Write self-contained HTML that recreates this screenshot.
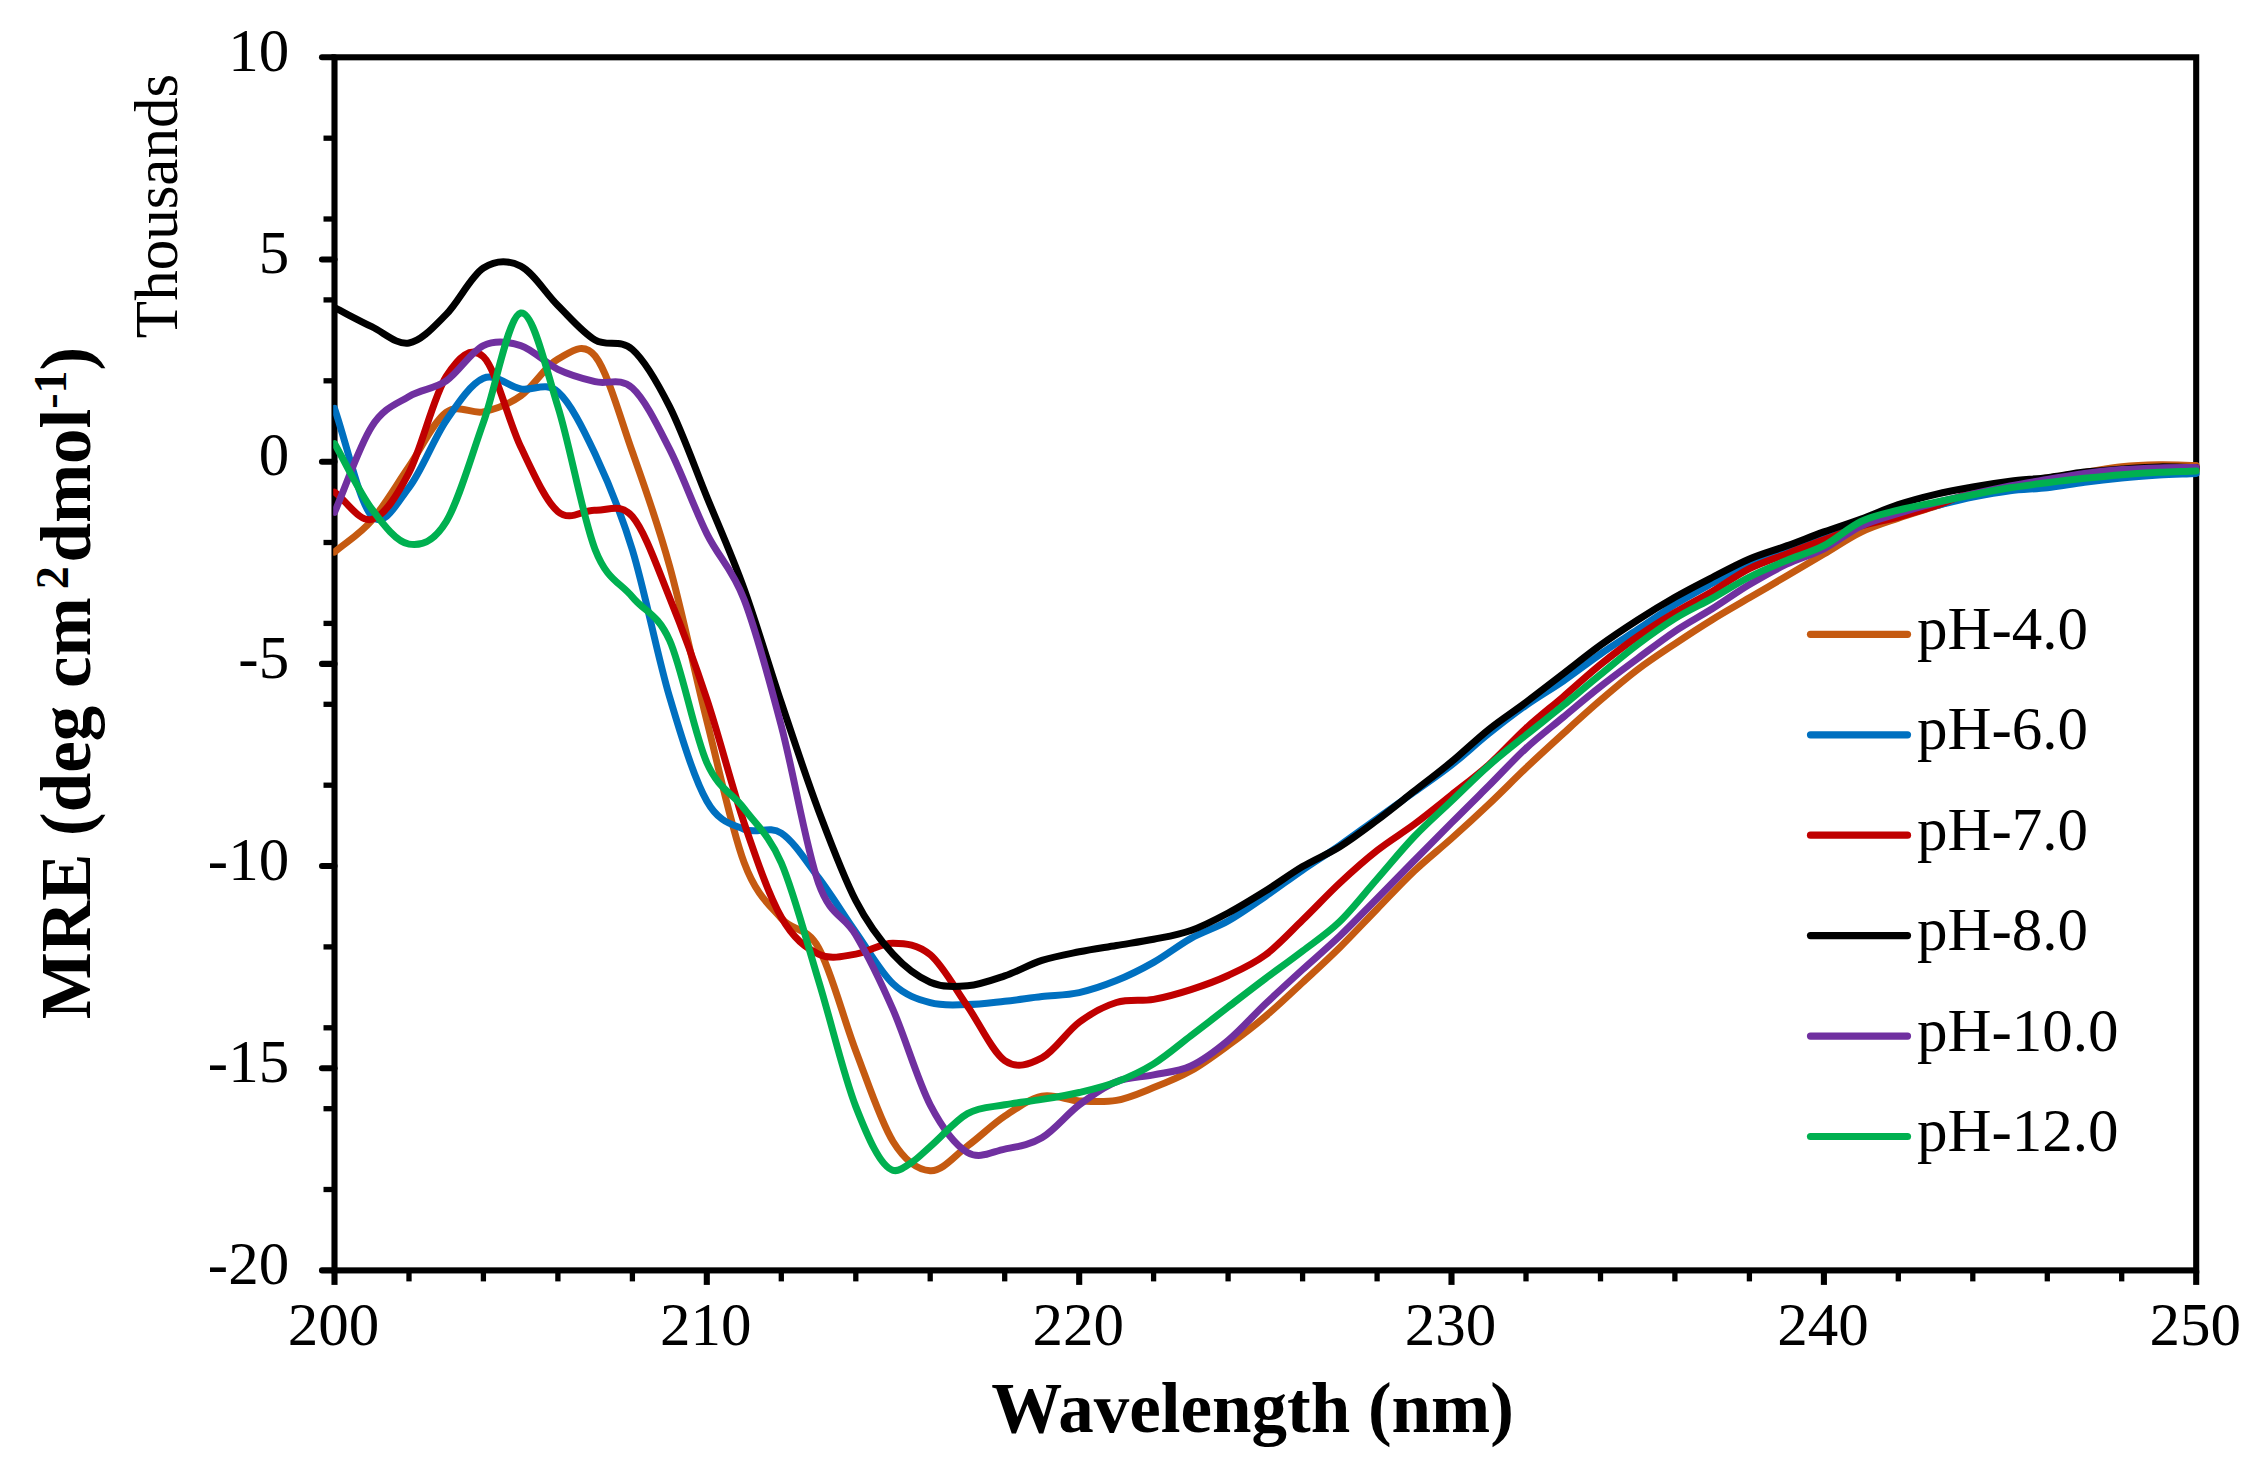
<!DOCTYPE html>
<html><head><meta charset="utf-8"><title>CD spectra</title>
<style>
html,body{margin:0;padding:0;background:#fff}
svg{display:block}
text{font-family:"Liberation Serif","Times New Roman",serif;fill:#000}
.t{font-size:61px}
.b{font-weight:bold}
</style></head><body>
<svg xmlns="http://www.w3.org/2000/svg" width="2266" height="1474" viewBox="0 0 2266 1474">
<rect width="2266" height="1474" fill="#fff"/>

<g stroke="#000" stroke-width="6.1" fill="none" stroke-linecap="butt">
<rect x="334.5" y="57.3" width="1861.7" height="1213.1"/>
<line x1="322.0" y1="57.3" x2="334.5" y2="57.3" stroke-linecap="round"/>
<line x1="322.0" y1="259.5" x2="334.5" y2="259.5" stroke-linecap="round"/>
<line x1="322.0" y1="461.7" x2="334.5" y2="461.7" stroke-linecap="round"/>
<line x1="322.0" y1="663.9" x2="334.5" y2="663.9" stroke-linecap="round"/>
<line x1="322.0" y1="866.0" x2="334.5" y2="866.0" stroke-linecap="round"/>
<line x1="322.0" y1="1068.2" x2="334.5" y2="1068.2" stroke-linecap="round"/>
<line x1="322.0" y1="1270.4" x2="334.5" y2="1270.4" stroke-linecap="round"/>
<line x1="323.5" y1="138.2" x2="334.5" y2="138.2" stroke-width="5.3"/>
<line x1="323.5" y1="219.0" x2="334.5" y2="219.0" stroke-width="5.3"/>
<line x1="323.5" y1="299.9" x2="334.5" y2="299.9" stroke-width="5.3"/>
<line x1="323.5" y1="380.8" x2="334.5" y2="380.8" stroke-width="5.3"/>
<line x1="323.5" y1="542.5" x2="334.5" y2="542.5" stroke-width="5.3"/>
<line x1="323.5" y1="623.4" x2="334.5" y2="623.4" stroke-width="5.3"/>
<line x1="323.5" y1="704.3" x2="334.5" y2="704.3" stroke-width="5.3"/>
<line x1="323.5" y1="785.2" x2="334.5" y2="785.2" stroke-width="5.3"/>
<line x1="323.5" y1="946.9" x2="334.5" y2="946.9" stroke-width="5.3"/>
<line x1="323.5" y1="1027.8" x2="334.5" y2="1027.8" stroke-width="5.3"/>
<line x1="323.5" y1="1108.7" x2="334.5" y2="1108.7" stroke-width="5.3"/>
<line x1="323.5" y1="1189.5" x2="334.5" y2="1189.5" stroke-width="5.3"/>
<line x1="334.5" y1="1270.4" x2="334.5" y2="1284.9"/>
<line x1="706.8" y1="1270.4" x2="706.8" y2="1284.9"/>
<line x1="1079.2" y1="1270.4" x2="1079.2" y2="1284.9"/>
<line x1="1451.5" y1="1270.4" x2="1451.5" y2="1284.9"/>
<line x1="1823.9" y1="1270.4" x2="1823.9" y2="1284.9"/>
<line x1="2196.2" y1="1270.4" x2="2196.2" y2="1284.9"/>
<line x1="409.0" y1="1270.4" x2="409.0" y2="1281.4" stroke-width="5.3"/>
<line x1="483.4" y1="1270.4" x2="483.4" y2="1281.4" stroke-width="5.3"/>
<line x1="557.9" y1="1270.4" x2="557.9" y2="1281.4" stroke-width="5.3"/>
<line x1="632.4" y1="1270.4" x2="632.4" y2="1281.4" stroke-width="5.3"/>
<line x1="781.3" y1="1270.4" x2="781.3" y2="1281.4" stroke-width="5.3"/>
<line x1="855.8" y1="1270.4" x2="855.8" y2="1281.4" stroke-width="5.3"/>
<line x1="930.2" y1="1270.4" x2="930.2" y2="1281.4" stroke-width="5.3"/>
<line x1="1004.7" y1="1270.4" x2="1004.7" y2="1281.4" stroke-width="5.3"/>
<line x1="1153.6" y1="1270.4" x2="1153.6" y2="1281.4" stroke-width="5.3"/>
<line x1="1228.1" y1="1270.4" x2="1228.1" y2="1281.4" stroke-width="5.3"/>
<line x1="1302.6" y1="1270.4" x2="1302.6" y2="1281.4" stroke-width="5.3"/>
<line x1="1377.1" y1="1270.4" x2="1377.1" y2="1281.4" stroke-width="5.3"/>
<line x1="1526.0" y1="1270.4" x2="1526.0" y2="1281.4" stroke-width="5.3"/>
<line x1="1600.5" y1="1270.4" x2="1600.5" y2="1281.4" stroke-width="5.3"/>
<line x1="1674.9" y1="1270.4" x2="1674.9" y2="1281.4" stroke-width="5.3"/>
<line x1="1749.4" y1="1270.4" x2="1749.4" y2="1281.4" stroke-width="5.3"/>
<line x1="1898.3" y1="1270.4" x2="1898.3" y2="1281.4" stroke-width="5.3"/>
<line x1="1972.8" y1="1270.4" x2="1972.8" y2="1281.4" stroke-width="5.3"/>
<line x1="2047.3" y1="1270.4" x2="2047.3" y2="1281.4" stroke-width="5.3"/>
<line x1="2121.7" y1="1270.4" x2="2121.7" y2="1281.4" stroke-width="5.3"/>
</g>
<defs><clipPath id="pc"><rect x="333.2" y="0" width="1870" height="1474"/></clipPath></defs>
<g fill="none" stroke-width="7.0" stroke-linecap="round" stroke-linejoin="round" clip-path="url(#pc)">
<path stroke="#C55A11" d="M334.5,552.1C346.9,541.6 359.3,534.8 371.7,520.5C384.1,506.2 396.6,484.5 409.0,466.5C421.4,448.5 433.8,421.4 446.2,412.3C458.6,403.2 471.0,414.5 483.4,411.8C495.8,409.1 508.3,404.7 520.7,395.9C533.1,387.1 545.5,365.8 557.9,359.2C570.3,352.6 582.7,340.5 595.1,356.0C607.5,371.5 620.0,417.0 632.4,452.0C644.8,487.0 657.2,521.3 669.6,566.1C682.0,610.9 694.4,671.2 706.8,720.6C719.3,770.0 731.7,829.5 744.1,862.5C756.5,895.5 768.9,904.2 781.3,918.4C793.7,932.6 806.1,925.6 818.5,947.7C831.0,969.8 843.4,1018.6 855.8,1050.9C868.2,1083.2 880.6,1121.5 893.0,1141.5C905.4,1161.5 917.8,1170.0 930.2,1170.7C942.7,1171.5 955.1,1155.1 967.5,1146.0C979.9,1136.9 992.3,1124.5 1004.7,1116.2C1017.1,1107.9 1029.5,1098.6 1041.9,1096.1C1054.4,1093.5 1066.8,1100.2 1079.2,1100.9C1091.6,1101.6 1104.0,1102.6 1116.4,1100.4C1128.8,1098.2 1141.2,1092.5 1153.6,1087.6C1166.1,1082.7 1178.5,1077.8 1190.9,1070.8C1203.3,1063.8 1215.7,1054.5 1228.1,1045.4C1240.5,1036.4 1252.9,1027.0 1265.3,1016.5C1277.8,1006.0 1290.2,994.0 1302.6,982.5C1315.0,971.0 1327.4,959.8 1339.8,947.5C1352.2,935.2 1364.6,921.8 1377.1,909.0C1389.5,896.2 1401.9,882.8 1414.3,871.0C1426.7,859.2 1439.1,849.6 1451.5,838.5C1463.9,827.4 1476.3,816.0 1488.8,804.2C1501.2,792.5 1513.6,779.8 1526.0,768.0C1538.4,756.2 1550.8,744.9 1563.2,733.6C1575.6,722.3 1588.0,710.9 1600.5,700.2C1612.9,689.5 1625.3,678.9 1637.7,669.5C1650.1,660.1 1662.5,652.1 1674.9,643.8C1687.3,635.5 1699.7,627.4 1712.2,619.7C1724.6,612.0 1737.0,605.1 1749.4,597.8C1761.8,590.5 1774.2,583.3 1786.6,576.0C1799.0,568.7 1811.4,561.4 1823.9,554.1C1836.3,546.8 1848.7,538.1 1861.1,532.1C1873.5,526.1 1885.9,522.5 1898.3,518.2C1910.7,513.9 1923.2,510.3 1935.6,506.2C1948.0,502.1 1960.4,497.1 1972.8,493.5C1985.2,489.9 1997.6,487.1 2010.0,484.5C2022.4,481.9 2034.9,480.0 2047.3,478.0C2059.7,476.0 2072.1,474.5 2084.5,472.6C2096.9,470.7 2109.3,468.0 2121.7,466.7C2134.1,465.4 2146.6,465.0 2159.0,464.8C2171.4,464.6 2183.8,465.3 2196.2,465.6"/>
<path stroke="#0070C0" d="M334.5,408.3C346.9,444.2 359.3,502.7 371.7,515.9C384.1,529.1 396.6,503.4 409.0,487.5C421.4,471.6 433.8,438.7 446.2,420.5C458.6,402.3 471.0,383.6 483.4,378.3C495.8,373.0 508.3,386.6 520.7,388.9C533.1,391.2 545.5,381.0 557.9,391.9C570.3,402.8 582.7,427.7 595.1,454.0C607.5,480.4 620.0,509.5 632.4,550.0C644.8,590.5 657.2,655.3 669.6,697.1C682.0,738.9 694.4,779.0 706.8,801.0C719.3,823.0 731.7,823.9 744.1,829.2C756.5,834.6 768.9,825.0 781.3,833.1C793.7,841.2 806.1,861.1 818.5,877.6C831.0,894.1 843.4,914.5 855.8,932.2C868.2,949.9 880.6,972.0 893.0,983.8C905.4,995.5 917.8,999.2 930.2,1002.7C942.7,1006.2 955.1,1004.8 967.5,1004.6C979.9,1004.4 992.3,1002.6 1004.7,1001.3C1017.1,1000.0 1029.5,998.0 1041.9,996.6C1054.4,995.2 1066.8,995.3 1079.2,992.6C1091.6,989.9 1104.0,985.6 1116.4,980.6C1128.8,975.6 1141.2,969.4 1153.6,962.4C1166.1,955.4 1178.5,945.3 1190.9,938.4C1203.3,931.5 1215.7,928.0 1228.1,921.0C1240.5,914.0 1252.9,905.0 1265.3,896.5C1277.8,888.0 1290.2,878.5 1302.6,870.0C1315.0,861.5 1327.4,853.9 1339.8,845.3C1352.2,836.7 1364.6,827.4 1377.1,818.5C1389.5,809.6 1401.9,800.9 1414.3,792.0C1426.7,783.1 1439.1,774.7 1451.5,765.0C1463.9,755.3 1476.3,743.6 1488.8,733.6C1501.2,723.7 1513.6,714.1 1526.0,705.3C1538.4,696.5 1550.8,689.5 1563.2,681.0C1575.6,672.4 1588.0,662.6 1600.5,654.0C1612.9,645.4 1625.3,637.7 1637.7,629.5C1650.1,621.3 1662.5,612.3 1674.9,604.6C1687.3,596.9 1699.7,590.2 1712.2,583.3C1724.6,576.4 1737.0,568.3 1749.4,563.0C1761.8,557.7 1774.2,555.6 1786.6,551.5C1799.0,547.4 1811.4,542.9 1823.9,538.5C1836.3,534.1 1848.7,528.9 1861.1,525.0C1873.5,521.1 1885.9,518.2 1898.3,515.0C1910.7,511.8 1923.2,508.9 1935.6,505.9C1948.0,502.9 1960.4,499.6 1972.8,497.1C1985.2,494.6 1997.6,492.3 2010.0,490.7C2022.4,489.1 2034.9,489.1 2047.3,487.7C2059.7,486.3 2072.1,483.8 2084.5,482.2C2096.9,480.6 2109.3,479.2 2121.7,478.0C2134.1,476.8 2146.6,475.9 2159.0,475.1C2171.4,474.3 2183.8,474.0 2196.2,473.4"/>
<path stroke="#C00000" d="M334.5,492.1C346.9,501.2 359.3,522.6 371.7,519.4C384.1,516.2 396.6,496.5 409.0,472.7C421.4,448.9 433.8,395.8 446.2,376.5C458.6,357.2 471.0,345.0 483.4,356.7C495.8,368.4 508.3,421.0 520.7,446.8C533.1,472.6 545.5,501.0 557.9,511.6C570.3,522.2 582.7,509.5 595.1,510.3C607.5,511.1 620.0,502.0 632.4,516.6C644.8,531.2 657.2,567.3 669.6,597.7C682.0,628.1 694.4,661.5 706.8,699.0C719.3,736.5 731.7,786.4 744.1,822.8C756.5,859.2 768.9,895.4 781.3,917.3C793.7,939.2 806.1,948.0 818.5,954.1C831.0,960.2 843.4,955.9 855.8,954.1C868.2,952.3 880.6,943.1 893.0,943.2C905.4,943.3 917.8,944.2 930.2,954.7C942.7,965.2 955.1,988.6 967.5,1006.3C979.9,1023.9 992.3,1052.0 1004.7,1060.6C1017.1,1069.2 1029.5,1064.3 1041.9,1057.9C1054.4,1051.5 1066.8,1031.4 1079.2,1022.2C1091.6,1013.0 1104.0,1006.3 1116.4,1002.5C1128.8,998.7 1141.2,1001.5 1153.6,999.4C1166.1,997.2 1178.5,993.6 1190.9,989.6C1203.3,985.6 1215.7,981.3 1228.1,975.5C1240.5,969.7 1252.9,964.2 1265.3,955.0C1277.8,945.8 1290.2,932.0 1302.6,920.0C1315.0,908.0 1327.4,894.6 1339.8,883.0C1352.2,871.4 1364.6,860.3 1377.1,850.5C1389.5,840.7 1401.9,833.5 1414.3,824.3C1426.7,815.0 1439.1,804.9 1451.5,795.0C1463.9,785.1 1476.3,775.9 1488.8,764.8C1501.2,753.7 1513.6,739.6 1526.0,728.3C1538.4,717.0 1550.8,707.4 1563.2,696.8C1575.6,686.2 1588.0,674.6 1600.5,664.5C1612.9,654.5 1625.3,645.1 1637.7,636.5C1650.1,627.9 1662.5,620.1 1674.9,612.6C1687.3,605.1 1699.7,598.7 1712.2,591.4C1724.6,584.1 1737.0,574.9 1749.4,568.6C1761.8,562.4 1774.2,558.7 1786.6,553.9C1799.0,549.1 1811.4,544.5 1823.9,539.9C1836.3,535.2 1848.7,529.8 1861.1,526.0C1873.5,522.2 1885.9,520.4 1898.3,517.0C1910.7,513.6 1923.2,510.0 1935.6,505.8C1948.0,501.6 1960.4,495.6 1972.8,492.0C1985.2,488.4 1997.6,486.3 2010.0,484.5C2022.4,482.7 2034.9,482.3 2047.3,481.0C2059.7,479.7 2072.1,477.8 2084.5,476.5C2096.9,475.2 2109.3,473.9 2121.7,473.0C2134.1,472.1 2146.6,471.5 2159.0,471.0C2171.4,470.5 2183.8,470.3 2196.2,470.0"/>
<path stroke="#000000" d="M334.5,307.7C346.9,314.0 359.3,320.8 371.7,326.7C384.1,332.6 396.6,345.1 409.0,343.0C421.4,340.9 433.8,326.9 446.2,314.4C458.6,301.9 471.0,276.0 483.4,268.0C495.8,260.0 508.3,259.9 520.7,266.2C533.1,272.4 545.5,293.2 557.9,305.5C570.3,317.8 582.7,332.7 595.1,340.0C607.5,347.3 620.0,338.4 632.4,349.5C644.8,360.6 657.2,382.1 669.6,406.7C682.0,431.3 694.4,466.5 706.8,496.9C719.3,527.3 731.7,554.6 744.1,588.9C756.5,623.2 768.9,665.8 781.3,702.7C793.7,739.6 806.1,777.4 818.5,810.4C831.0,843.4 843.4,876.6 855.8,900.6C868.2,924.6 880.6,940.6 893.0,954.2C905.4,967.8 917.8,976.9 930.2,982.2C942.7,987.5 955.1,986.8 967.5,985.8C979.9,984.8 992.3,980.1 1004.7,975.9C1017.1,971.7 1029.5,964.4 1041.9,960.4C1054.4,956.4 1066.8,954.3 1079.2,951.8C1091.6,949.3 1104.0,947.6 1116.4,945.5C1128.8,943.4 1141.2,941.8 1153.6,939.3C1166.1,936.8 1178.5,934.9 1190.9,930.5C1203.3,926.1 1215.7,919.6 1228.1,913.0C1240.5,906.4 1252.9,898.7 1265.3,891.0C1277.8,883.3 1290.2,874.0 1302.6,866.6C1315.0,859.2 1327.4,854.4 1339.8,846.7C1352.2,839.0 1364.6,829.5 1377.1,820.2C1389.5,810.9 1401.9,800.8 1414.3,791.1C1426.7,781.4 1439.1,772.1 1451.5,761.8C1463.9,751.5 1476.3,739.3 1488.8,729.4C1501.2,719.5 1513.6,711.6 1526.0,702.3C1538.4,693.0 1550.8,683.3 1563.2,673.8C1575.6,664.3 1588.0,654.2 1600.5,645.2C1612.9,636.2 1625.3,628.0 1637.7,620.0C1650.1,612.0 1662.5,604.4 1674.9,597.3C1687.3,590.2 1699.7,583.9 1712.2,577.5C1724.6,571.1 1737.0,564.3 1749.4,559.0C1761.8,553.7 1774.2,550.4 1786.6,545.9C1799.0,541.4 1811.4,536.4 1823.9,531.9C1836.3,527.4 1848.7,523.5 1861.1,519.0C1873.5,514.5 1885.9,508.7 1898.3,504.6C1910.7,500.5 1923.2,497.2 1935.6,494.3C1948.0,491.4 1960.4,489.2 1972.8,487.0C1985.2,484.8 1997.6,482.9 2010.0,481.3C2022.4,479.7 2034.9,479.1 2047.3,477.6C2059.7,476.1 2072.1,473.5 2084.5,472.1C2096.9,470.7 2109.3,469.9 2121.7,469.0C2134.1,468.1 2146.6,467.1 2159.0,466.9C2171.4,466.7 2183.8,467.4 2196.2,467.6"/>
<path stroke="#7030A0" d="M334.5,512.4C346.9,483.8 359.3,445.9 371.7,426.6C384.1,407.3 396.6,404.1 409.0,396.5C421.4,388.9 433.8,389.4 446.2,380.9C458.6,372.4 471.0,351.5 483.4,345.6C495.8,339.7 508.3,341.7 520.7,345.6C533.1,349.6 545.5,363.3 557.9,369.3C570.3,375.3 582.7,378.6 595.1,381.7C607.5,384.8 620.0,376.8 632.4,388.0C644.8,399.2 657.2,424.8 669.6,449.1C682.0,473.4 694.4,508.6 706.8,533.6C719.3,558.7 731.7,567.4 744.1,599.4C756.5,631.4 768.9,678.5 781.3,725.8C793.7,773.1 806.1,848.2 818.5,883.1C831.0,918.0 843.4,913.8 855.8,934.9C868.2,956.0 880.6,981.3 893.0,1009.6C905.4,1037.9 917.8,1081.0 930.2,1104.8C942.7,1128.6 955.1,1145.0 967.5,1152.4C979.9,1159.8 992.3,1151.5 1004.7,1149.1C1017.1,1146.7 1029.5,1145.2 1041.9,1137.8C1054.4,1130.4 1066.8,1114.2 1079.2,1104.9C1091.6,1095.6 1104.0,1086.7 1116.4,1081.7C1128.8,1076.7 1141.2,1077.5 1153.6,1074.9C1166.1,1072.3 1178.5,1071.7 1190.9,1066.0C1203.3,1060.3 1215.7,1050.8 1228.1,1040.5C1240.5,1030.2 1252.9,1015.8 1265.3,1004.0C1277.8,992.2 1290.2,980.8 1302.6,969.5C1315.0,958.2 1327.4,947.8 1339.8,936.0C1352.2,924.2 1364.6,911.1 1377.1,898.5C1389.5,885.9 1401.9,873.1 1414.3,860.5C1426.7,847.9 1439.1,835.3 1451.5,822.9C1463.9,810.4 1476.3,798.2 1488.8,785.8C1501.2,773.4 1513.6,759.7 1526.0,748.3C1538.4,736.9 1550.8,727.5 1563.2,717.2C1575.6,706.9 1588.0,696.3 1600.5,686.5C1612.9,676.7 1625.3,667.7 1637.7,658.5C1650.1,649.3 1662.5,639.6 1674.9,631.3C1687.3,623.0 1699.7,616.6 1712.2,608.8C1724.6,601.0 1737.0,591.9 1749.4,584.5C1761.8,577.1 1774.2,570.1 1786.6,564.2C1799.0,558.3 1811.4,555.3 1823.9,548.9C1836.3,542.5 1848.7,531.9 1861.1,526.0C1873.5,520.1 1885.9,517.3 1898.3,513.4C1910.7,509.5 1923.2,506.0 1935.6,502.8C1948.0,499.6 1960.4,496.8 1972.8,494.0C1985.2,491.2 1997.6,488.4 2010.0,486.0C2022.4,483.6 2034.9,481.6 2047.3,479.5C2059.7,477.4 2072.1,475.0 2084.5,473.4C2096.9,471.7 2109.3,470.5 2121.7,469.6C2134.1,468.7 2146.6,468.2 2159.0,467.9C2171.4,467.5 2183.8,467.6 2196.2,467.5"/>
<path stroke="#00B050" d="M334.5,443.6C346.9,465.4 359.3,492.1 371.7,508.9C384.1,525.6 396.6,542.0 409.0,544.1C421.4,546.2 433.8,541.9 446.2,521.6C458.6,501.3 471.0,457.2 483.4,422.4C495.8,387.6 508.3,315.6 520.7,313.0C533.1,310.4 545.5,367.3 557.9,406.7C570.3,446.1 582.7,517.7 595.1,549.4C607.5,581.1 620.0,581.8 632.4,597.0C644.8,612.2 657.2,612.8 669.6,640.4C682.0,668.0 694.4,734.6 706.8,762.6C719.3,790.6 731.7,791.9 744.1,808.6C756.5,825.3 768.9,834.3 781.3,862.9C793.7,891.5 806.1,939.8 818.5,980.4C831.0,1021.0 843.4,1074.9 855.8,1106.6C868.2,1138.2 880.6,1166.7 893.0,1170.3C899.2,1172.1 905.4,1166.5 911.6,1162.5C917.8,1158.5 924.0,1152.0 930.2,1146.6C942.7,1135.9 955.1,1120.6 967.5,1113.6C979.9,1106.6 992.3,1107.2 1004.7,1104.8C1017.1,1102.4 1029.5,1101.5 1041.9,1099.4C1054.4,1097.4 1066.8,1095.4 1079.2,1092.5C1091.6,1089.6 1104.0,1086.8 1116.4,1082.0C1128.8,1077.2 1141.2,1071.6 1153.6,1063.9C1166.1,1056.2 1178.5,1045.3 1190.9,1035.8C1203.3,1026.3 1215.7,1016.5 1228.1,1007.0C1240.5,997.5 1252.9,987.9 1265.3,978.6C1277.8,969.3 1290.2,960.5 1302.6,951.0C1315.0,941.5 1327.4,933.5 1339.8,921.5C1352.2,909.5 1364.6,893.2 1377.1,879.0C1389.5,864.8 1401.9,849.5 1414.3,836.5C1426.7,823.5 1439.1,812.8 1451.5,801.0C1463.9,789.2 1476.3,776.6 1488.8,765.6C1501.2,754.6 1513.6,745.1 1526.0,735.1C1538.4,725.1 1550.8,715.5 1563.2,705.4C1575.6,695.3 1588.0,684.6 1600.5,674.5C1612.9,664.4 1625.3,653.8 1637.7,644.5C1650.1,635.2 1662.5,626.3 1674.9,618.6C1687.3,610.9 1699.7,605.3 1712.2,598.4C1724.6,591.5 1737.0,583.3 1749.4,577.0C1761.8,570.7 1774.2,565.7 1786.6,560.5C1799.0,555.3 1811.4,552.2 1823.9,545.7C1836.3,539.2 1848.7,527.4 1861.1,521.5C1873.5,515.6 1885.9,513.4 1898.3,510.2C1910.7,507.0 1923.2,504.8 1935.6,502.2C1948.0,499.6 1960.4,497.1 1972.8,494.7C1985.2,492.3 1997.6,489.8 2010.0,487.8C2022.4,485.8 2034.9,484.3 2047.3,482.7C2059.7,481.1 2072.1,479.6 2084.5,478.3C2096.9,477.0 2109.3,475.7 2121.7,474.7C2134.1,473.7 2146.6,472.9 2159.0,472.3C2171.4,471.7 2183.8,471.4 2196.2,470.9"/>
</g>
<g class="t">
<text x="289.2" y="70.9" text-anchor="end">10</text>
<text x="289.2" y="273.1" text-anchor="end">5</text>
<text x="289.2" y="475.3" text-anchor="end">0</text>
<text x="289.2" y="677.5" text-anchor="end">-5</text>
<text x="289.2" y="879.6" text-anchor="end">-10</text>
<text x="289.2" y="1081.8" text-anchor="end">-15</text>
<text x="289.2" y="1284.0" text-anchor="end">-20</text>
<text x="333.5" y="1345.4" text-anchor="middle">200</text>
<text x="705.8" y="1345.4" text-anchor="middle">210</text>
<text x="1078.2" y="1345.4" text-anchor="middle">220</text>
<text x="1450.5" y="1345.4" text-anchor="middle">230</text>
<text x="1822.9" y="1345.4" text-anchor="middle">240</text>
<text x="2195.2" y="1345.4" text-anchor="middle">250</text>
</g>
<text class="b" font-size="71" x="1252.5" y="1431.6" text-anchor="middle">Wavelength (nm)</text>
<text class="t" transform="translate(176.8,73.8) rotate(-90)" text-anchor="end">Thousands</text>
<g class="b" font-size="71"><text transform="translate(90,1019.3) rotate(-90)">MRE (deg cm</text><text font-size="46" transform="translate(68,589.3) rotate(-90)">2</text><text transform="translate(90,562.6) rotate(-90)">dmol<tspan font-size="46" dy="-24">-1</tspan><tspan dy="24">)</tspan></text></g>

<g>
<line x1="1810.5" y1="634.3" x2="1907.5" y2="634.3" stroke="#C55A11" stroke-width="7.2" stroke-linecap="round"/>
<text class="t" x="1917" y="648.8">pH-4.0</text>
<line x1="1810.5" y1="734.8" x2="1907.5" y2="734.8" stroke="#0070C0" stroke-width="7.2" stroke-linecap="round"/>
<text class="t" x="1917" y="749.2">pH-6.0</text>
<line x1="1810.5" y1="835.2" x2="1907.5" y2="835.2" stroke="#C00000" stroke-width="7.2" stroke-linecap="round"/>
<text class="t" x="1917" y="849.7">pH-7.0</text>
<line x1="1810.5" y1="935.6" x2="1907.5" y2="935.6" stroke="#000000" stroke-width="7.2" stroke-linecap="round"/>
<text class="t" x="1917" y="950.1">pH-8.0</text>
<line x1="1810.5" y1="1036.1" x2="1907.5" y2="1036.1" stroke="#7030A0" stroke-width="7.2" stroke-linecap="round"/>
<text class="t" x="1917" y="1050.6">pH-10.0</text>
<line x1="1810.5" y1="1136.5" x2="1907.5" y2="1136.5" stroke="#00B050" stroke-width="7.2" stroke-linecap="round"/>
<text class="t" x="1917" y="1151.0">pH-12.0</text>
</g>
</svg></body></html>
